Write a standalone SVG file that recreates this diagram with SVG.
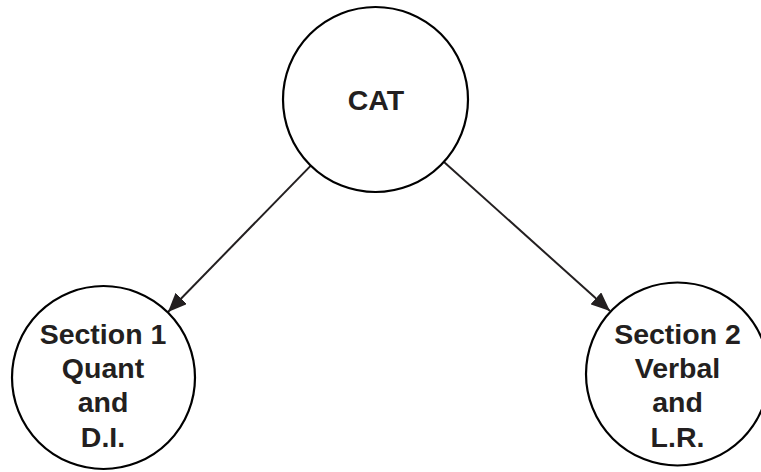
<svg xmlns="http://www.w3.org/2000/svg" width="761" height="472" viewBox="0 0 761 472">
<style>
.node{fill:#fff;stroke:#000;stroke-width:2.2}
.lbl{font-family:"Liberation Sans",Arial,sans-serif;font-weight:bold;font-size:28.5px;fill:#231f20;text-anchor:middle}
.edge{stroke:#231f20;stroke-width:2;fill:none}
</style>
<defs>
<marker id="arr" markerUnits="userSpaceOnUse" markerWidth="22" markerHeight="16" refX="19" refY="8" orient="auto">
<path d="M0,0 L19,8 L0,16 Z" fill="#231f20"/>
</marker>
</defs>
<g id="connectors">
<line class="edge" x1="310.8" y1="165.6" x2="168" y2="312" marker-end="url(#arr)"/>
<line class="edge" x1="444" y1="162" x2="610" y2="311" marker-end="url(#arr)"/>
</g>
<g id="cat">
<circle class="node" cx="375.5" cy="99.5" r="92.5"/>
<text class="lbl" x="376" y="110">CAT</text>
</g>
<g id="section1">
<circle class="node" cx="103.5" cy="377.5" r="91.5"/>
<text class="lbl" x="103" y="344">Section 1</text>
<text class="lbl" x="103" y="378">Quant</text>
<text class="lbl" x="103" y="412">and</text>
<text class="lbl" x="103" y="447">D.I.</text>
</g>
<g id="section2">
<circle class="node" cx="677.5" cy="374" r="91.5"/>
<text class="lbl" x="677.5" y="344">Section 2</text>
<text class="lbl" x="677.5" y="378">Verbal</text>
<text class="lbl" x="677.5" y="412">and</text>
<text class="lbl" x="677.5" y="447">L.R.</text>
</g>
</svg>
